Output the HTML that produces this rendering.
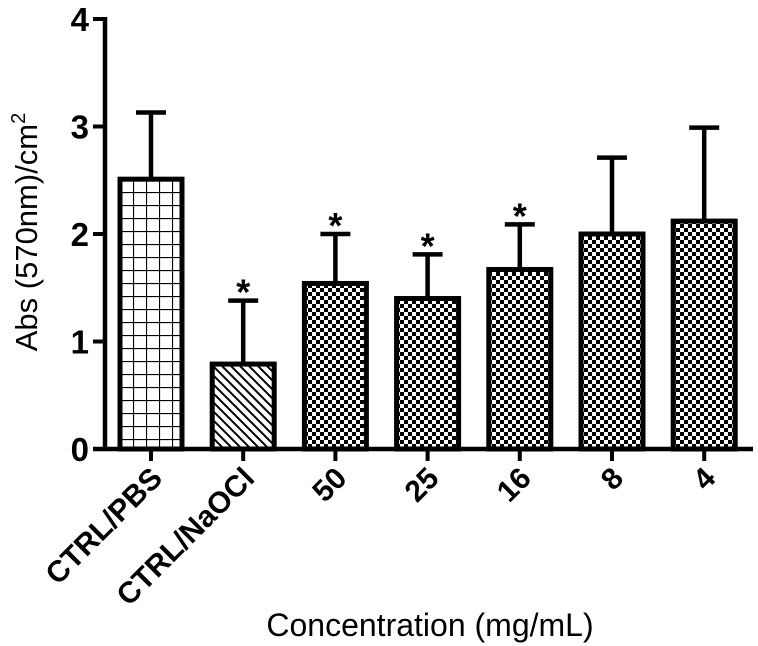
<!DOCTYPE html>
<html><head><meta charset="utf-8"><style>
html,body{margin:0;padding:0;background:#fff;}
svg{display:block;font-family:"Liberation Sans",Arial,sans-serif;}
</style></head><body>
<svg id="chart" width="758" height="646" viewBox="0 0 758 646">
<defs>
<pattern id="grid" width="13" height="13" patternUnits="userSpaceOnUse" x="120" y="179">
<rect width="13" height="13" fill="#fff"/><path d="M0 0H13M0 0V13" stroke="#000" stroke-width="2.2"/></pattern>
<pattern id="hatch" width="9" height="9" patternUnits="userSpaceOnUse">
<rect width="9" height="9" fill="#fff"/><path d="M-2 -2L11 11M-2 7L2 11M7 -2L11 2" stroke="#000" stroke-width="2"/></pattern>
<pattern id="check" width="8" height="8" patternUnits="userSpaceOnUse">
<rect width="8" height="8" fill="#fff"/><rect width="4" height="4" fill="#000"/><rect x="4" y="4" width="4" height="4" fill="#000"/></pattern>
</defs>
<g id="plot"></g>
<text x="430" y="636" font-size="32" text-anchor="middle">Concentration (mg/mL)</text>
<text transform="translate(37,232) rotate(-90)" font-size="31" text-anchor="middle">Abs (570nm)/cm<tspan dy="-12" font-size="20">2</tspan></text>
</svg>
<script>
const categories=["CTRL/PBS","CTRL/NaOCl","50","25","16","8","4"];
const means=[2.51,0.79,1.54,1.40,1.67,2.00,2.12];
const errors=[0.62,0.59,0.46,0.41,0.42,0.71,0.87];
const significant=[false,true,true,true,true,false,false];
const fills=["grid","hatch","check","check","check","check","check"];
const yTicks=[0,1,2,3,4];
const NS="http://www.w3.org/2000/svg";
const g=document.getElementById("plot");
const y0=449,yPer=107.5,x0=151,step=92.2,bw=62;
const yS=v=>y0-v*yPer;
const xS=i=>x0+i*step;
function mk(t,a){const e=document.createElementNS(NS,t);for(const k in a)e.setAttribute(k,a[k]);g.appendChild(e);return e;}
categories.forEach((c,i)=>{
 const cx=xS(i);
 const eb=mk("line",{x1:cx,x2:cx,y1:yS(means[i]),y2:yS(means[i]+errors[i]),stroke:"#000","stroke-width":4.5});
 
 
 const cap=mk("line",{x1:cx-15,x2:cx+15,y1:yS(means[i]+errors[i]),y2:yS(means[i]+errors[i]),stroke:"#000","stroke-width":4.5});
 
 
 const r=mk("rect",{x:cx-bw/2,y:yS(means[i]),width:bw,height:y0-yS(means[i]),fill:"url(#"+fills[i]+")",stroke:"#000","stroke-width":5});
 
 
 if(significant[i]){
  const s=mk("text",{x:cx,y:yS(means[i]+errors[i])+4,"font-size":36,"text-anchor":"middle","font-weight":"bold"});
  s.textContent="*";
  
  
 }
 const tk=mk("line",{x1:cx,x2:cx,y1:y0,y2:y0+12,stroke:"#000","stroke-width":4});
 
 
 const lb=mk("text",{transform:`translate(${cx+13},${y0+31}) rotate(-45)`,"font-size":30,"font-weight":"bold","text-anchor":"end"});
 lb.textContent=c;
 
 
});
const ya=mk("line",{x1:105,x2:105,y1:yS(4)-2,y2:y0+2,stroke:"#000","stroke-width":4.5});


const xa=mk("line",{x1:93,x2:753,y1:y0,y2:y0,stroke:"#000","stroke-width":4.5});


yTicks.forEach(v=>{
 const t=mk("line",{x1:93,x2:105,y1:yS(v),y2:yS(v),stroke:"#000","stroke-width":4});
 
 
 const l=mk("text",{x:89,y:yS(v)+12,"font-size":33,"font-weight":"bold","text-anchor":"end"});
 l.textContent=v;
 
 
});
</script>
</body></html>
